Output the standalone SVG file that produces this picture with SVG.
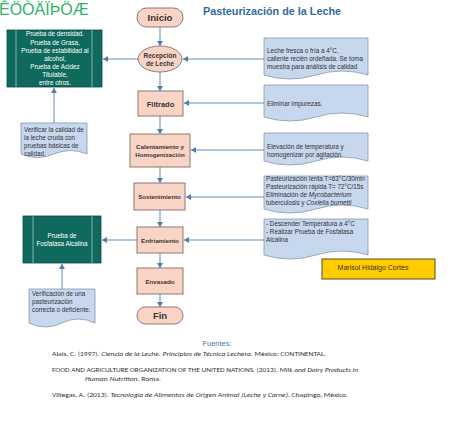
<svg xmlns="http://www.w3.org/2000/svg" width="474" height="427" viewBox="0 0 474 427">
<defs>
<marker id="ah" markerUnits="userSpaceOnUse" markerWidth="6" markerHeight="6" refX="5" refY="3" orient="auto">
<path d="M0,0 L5,3 L0,6 Z" fill="#4F7FA8"/>
</marker>
<style>
.node{fill:#F9D3C4;stroke:#8C7A74;stroke-width:1}
.nt{font-family:"Liberation Sans",Arial,sans-serif;font-weight:bold;fill:#3A3434;text-anchor:middle}
.doc{fill:#C6D7EE;stroke:#8797AE;stroke-width:0.8}
.dt{font-family:"Liberation Sans",Arial,sans-serif;font-size:6.3px;fill:#333}
.pp{fill:#0F6A5D;stroke:#0A4A41;stroke-width:0.8}
.ppl{stroke:#D5E2DF;stroke-width:0.6}
.pt{font-family:"Liberation Sans",Arial,sans-serif;font-size:6.3px;fill:#FFFFFF;text-anchor:middle}
.con{stroke:#5E8CB5;stroke-width:1;fill:none}
.ref{font-family:"Carlito","Liberation Sans",Arial,sans-serif;font-size:6.6px;fill:#333}
</style>
</defs>
<rect width="474" height="427" fill="#FFFFFF"/>
<text x="-1" y="15" font-family="Liberation Sans, Arial, sans-serif" font-size="16" fill="#2EB566">ÊÖÒÄÏÞÖÆ</text>
<text x="203" y="15" font-family="Liberation Sans, Arial, sans-serif" font-size="10.8" font-weight="bold" fill="#2F6B9E">Pasteurización de la Leche</text>

<g id="connectors">
<line class="con" x1="160" y1="26" x2="160" y2="46" marker-end="url(#ah)"/>
<line class="con" x1="160" y1="72" x2="160" y2="91" marker-end="url(#ah)"/>
<line class="con" x1="160" y1="116" x2="160" y2="134" marker-end="url(#ah)"/>
<line class="con" x1="160" y1="167" x2="160" y2="183" marker-end="url(#ah)"/>
<line class="con" x1="160" y1="210" x2="160" y2="227" marker-end="url(#ah)"/>
<line class="con" x1="160" y1="253" x2="160" y2="268" marker-end="url(#ah)"/>
<line class="con" x1="160" y1="294" x2="160" y2="307" marker-end="url(#ah)"/>
<line class="con" x1="264" y1="59" x2="183" y2="59" marker-end="url(#ah)"/>
<line class="con" x1="264" y1="103" x2="184" y2="103" marker-end="url(#ah)"/>
<line class="con" x1="264" y1="150" x2="191" y2="150" marker-end="url(#ah)"/>
<line class="con" x1="264" y1="197" x2="186" y2="197" marker-end="url(#ah)"/>
<line class="con" x1="264" y1="240" x2="184" y2="240" marker-end="url(#ah)"/>
<line class="con" x1="138" y1="59" x2="103" y2="59" marker-end="url(#ah)"/>
<line class="con" x1="137" y1="240" x2="102" y2="240" marker-end="url(#ah)"/>
<line class="con" x1="54" y1="123" x2="54" y2="88" marker-end="url(#ah)"/>
<line class="con" x1="62" y1="289" x2="62" y2="264" marker-end="url(#ah)"/>
</g>

<g id="inicio">
<rect class="node" x="137" y="8" width="46" height="19" rx="9.5"/>
<text class="nt" x="160" y="21" font-size="9.5">Inicio</text>
</g>
<g id="recepcion">
<ellipse class="node" cx="160" cy="59" rx="22" ry="13"/>
<text class="nt" x="160" y="58" font-size="6.5">Recepción</text>
<text class="nt" x="160" y="65.5" font-size="6.5">de Leche</text>
</g>
<g id="filtrado">
<rect class="node" x="138" y="91" width="45" height="25"/>
<text class="nt" x="160.5" y="106.5" font-size="7.5">Filtrado</text>
</g>
<g id="calentamiento">
<rect class="node" x="130" y="134" width="60" height="33"/>
<text class="nt" x="160" y="149" font-size="6.2">Calentamiento y</text>
<text class="nt" x="160" y="157" font-size="6.2">Homogenización</text>
</g>
<g id="sostenimiento">
<rect class="node" x="134" y="183" width="51" height="27"/>
<text class="nt" x="159.5" y="199" font-size="6.2">Sostenimiento</text>
</g>
<g id="enfriamiento">
<rect class="node" x="137" y="227" width="46" height="26"/>
<text class="nt" x="160" y="242.5" font-size="6.2">Enfriamiento</text>
</g>
<g id="envasado">
<rect class="node" x="137" y="268" width="46" height="26"/>
<text class="nt" x="160" y="284" font-size="6.2">Envasado</text>
</g>
<g id="fin">
<rect class="node" x="137" y="307" width="46" height="17" rx="8.5"/>
<text class="nt" x="160" y="319" font-size="9.5">Fin</text>
</g>

<g id="pruebas-leche">
<rect class="pp" x="7" y="30" width="95" height="57"/>
<line class="ppl" x1="16" y1="30" x2="16" y2="87"/>
<line class="ppl" x1="92" y1="30" x2="92" y2="87"/>
<text class="pt" x="55" y="36">Prueba de densidad.</text>
<text class="pt" x="55" y="44.5">Prueba de Grasa,</text>
<text class="pt" x="55" y="52.5">Prueba de estabilidad al</text>
<text class="pt" x="55" y="60.5">alcohol,</text>
<text class="pt" x="55" y="68.5">Prueba de Acidez</text>
<text class="pt" x="55" y="76.5">Titulable,</text>
<text class="pt" x="55" y="84.5">entre otros.</text>
</g>
<g id="verificar-calidad">
<path class="doc" d="M21,123 H87 V154 Q70.5,147 54,154 T21,154 Z"/>
<text class="dt" x="24" y="132" font-size="6.5">Verificar la calidad de</text>
<text class="dt" x="24" y="140" font-size="6.5">la leche cruda con</text>
<text class="dt" x="24" y="148" font-size="6.5">pruebas básicas de</text>
<text class="dt" x="24" y="156" font-size="6.5">calidad.</text>
</g>
<g id="prueba-fosfatasa">
<rect class="pp" x="23" y="216" width="78" height="47"/>
<line class="ppl" x1="33" y1="216" x2="33" y2="263"/>
<line class="ppl" x1="92" y1="216" x2="92" y2="263"/>
<text class="pt" x="62" y="238">Prueba de</text>
<text class="pt" x="62" y="246">Fosfatasa Alcalina</text>
</g>
<g id="verificacion-pasteurizacion">
<path class="doc" d="M29,289 H95 V323 Q78.5,315 62,323 T29,323 Z"/>
<text class="dt" x="32" y="296" font-size="6.5">Verificación de una</text>
<text class="dt" x="32" y="304" font-size="6.5">pasteurización</text>
<text class="dt" x="32" y="312" font-size="6.5">correcta o deficiente.</text>
</g>

<g id="nota-recepcion">
<path class="doc" d="M264,38 H368 V75 Q342,67 316,75 T264,75 Z"/>
<text class="dt" x="267" y="53">Leche fresca o fría a 4°C,</text>
<text class="dt" x="267" y="61">caliente recién ordeñada. Se toma</text>
<text class="dt" x="267" y="69">muestra para análisis de calidad</text>
</g>
<g id="nota-filtrado">
<path class="doc" d="M264,85 H368 V117 Q342,109 316,117 T264,117 Z"/>
<text class="dt" x="267" y="106">Eliminar impurezas.</text>
</g>
<g id="nota-calentamiento">
<path class="doc" d="M264,133 H368 V161 Q342,153 316,161 T264,161 Z"/>
<text class="dt" x="267" y="149">Elevación de temperatura y</text>
<text class="dt" x="267" y="157">homogenizar por agitación.</text>
</g>
<g id="nota-sostenimiento">
<path class="doc" d="M264,176 H368 V209 Q342,201 316,209 T264,209 Z"/>
<text class="dt" x="266" y="181">Pasteurización lenta T=63°C/30min</text>
<text class="dt" x="266" y="189">Pasteurización rápida T= 72°C/15s</text>
<text class="dt" x="266" y="197">Eliminación de <tspan font-style="italic">Mycobacterium</tspan></text>
<text class="dt" x="266" y="205">tuberculosis y  <tspan font-style="italic">Coxiella burnetti</tspan></text>
</g>
<g id="nota-enfriamiento">
<path class="doc" d="M264,219 H368 V255 Q342,247 316,255 T264,255 Z"/>
<text class="dt" x="266" y="226">- Descender Temperatura a 4°C</text>
<text class="dt" x="266" y="234">- Realizar Prueba de Fosfatasa</text>
<text class="dt" x="266" y="241.5">Alcalina</text>
</g>

<g id="autora">
<rect x="322" y="259" width="113" height="20" fill="#FFCC00" stroke="#5A4A1E" stroke-width="1"/>
<text x="373" y="269.5" font-family="Liberation Sans, Arial, sans-serif" font-size="7" fill="#3A3020" text-anchor="middle">Marisol Hidalgo Cortés</text>
</g>

<g id="fuentes">
<text x="217" y="346" font-family="Liberation Sans, Arial, sans-serif" font-size="7.5" fill="#4A7BA8" text-anchor="middle">Fuentes:</text>
<text class="ref" x="52" y="355.5" textLength="274" lengthAdjust="spacingAndGlyphs">Alais, C. (1997). <tspan font-style="italic">Ciencia de la Leche. Principios de Técnica Lechera.</tspan> México: CONTINENTAL.</text>
<text class="ref" x="52" y="371.5" textLength="306" lengthAdjust="spacingAndGlyphs">FOOD AND AGRICULTURE ORGANIZATION OF THE UNITED NATIONS. (2013). <tspan font-style="italic">Milk and Dairy Products in</tspan></text>
<text class="ref" x="85" y="380.5" textLength="76" lengthAdjust="spacingAndGlyphs"><tspan font-style="italic">Human Nutrition.</tspan> Roma.</text>
<text class="ref" x="52" y="396.5" textLength="296" lengthAdjust="spacingAndGlyphs">Villegas, A. (2013). <tspan font-style="italic">Tecnología de Alimentos de Origen Animal (Leche y Carne).</tspan> Chapingo, México.</text>
</g>
</svg>
